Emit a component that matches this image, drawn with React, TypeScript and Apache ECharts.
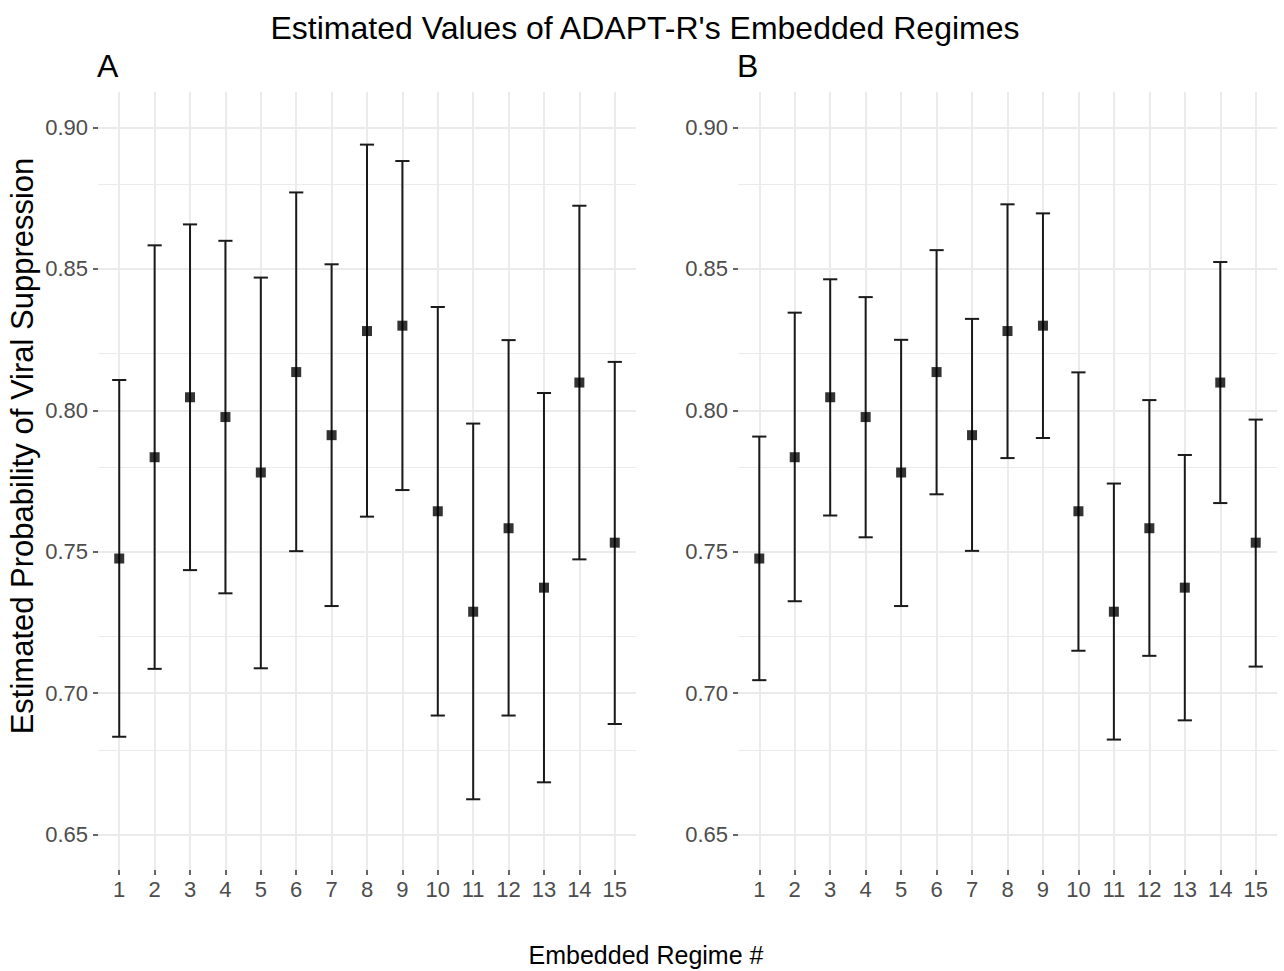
import React, { useEffect, useRef } from "react";
import * as echarts from "echarts";

const regimes = [1, 2, 3, 4, 5, 6, 7, 8, 9, 10, 11, 12, 13, 14, 15];
const estimates = [0.7476, 0.7834, 0.8046, 0.7976, 0.778, 0.8135, 0.7912, 0.828, 0.8299, 0.7643, 0.7288, 0.7583, 0.7373, 0.8098, 0.7532];
const lowerA = [0.6846, 0.7086, 0.7435, 0.7353, 0.7088, 0.7502, 0.7308, 0.7624, 0.7718, 0.6921, 0.6625, 0.6921, 0.6685, 0.7473, 0.6891];
const upperA = [0.8107, 0.8583, 0.8657, 0.8599, 0.8469, 0.877, 0.8516, 0.8939, 0.8881, 0.8365, 0.7953, 0.8248, 0.8061, 0.8723, 0.8171];
const lowerB = [0.7046, 0.7325, 0.7628, 0.7551, 0.7308, 0.7703, 0.7503, 0.7831, 0.7902, 0.715, 0.6836, 0.7132, 0.6904, 0.7672, 0.7094];
const upperB = [0.7907, 0.8345, 0.8463, 0.84, 0.8249, 0.8566, 0.8323, 0.8728, 0.8696, 0.8134, 0.7741, 0.8036, 0.7842, 0.8524, 0.7967];
const yMajor = [0.65, 0.7, 0.75, 0.8, 0.85, 0.9];
const yMinor = [0.675, 0.725, 0.775, 0.825, 0.875];

const title = "Estimated Values of ADAPT-R's Embedded Regimes";
const panelTags = ["A", "B"];
const yTitle = "Estimated Probability of Viral Suppression";
const xTitle = "Embedded Regime #";

const FONT = '"Liberation Sans", Arial, Helvetica, sans-serif';
const GRID_COLOR = "#ebebeb";
const TICK_TEXT = "#4d4d4d";

function buildPanel(idx: number, lower: number[], upper: number[]) {
  const pts = regimes.map((r, i) => [r, estimates[i]]);
  const bars = regimes.map((r, i) => [r, lower[i], upper[i]]);
  const gridLines = [
    ...yMajor.map((v) => ({ yAxis: v, lineStyle: { color: GRID_COLOR, width: 2, type: "solid" } })),
    ...yMinor.map((v) => ({ yAxis: v, lineStyle: { color: GRID_COLOR, width: 1, type: "solid" } })),
    ...regimes.map((r) => ({ xAxis: r, lineStyle: { color: GRID_COLOR, width: 2, type: "solid" } })),
  ];
  return [
    {
      type: "scatter",
      xAxisIndex: idx,
      yAxisIndex: idx,
      data: pts,
      symbolSize: 0,
      silent: true,
      z: 1,
      markLine: {
        z: 1,
        silent: true,
        symbol: ["none", "none"],
        label: { show: false },
        emphasis: { disabled: true },
        animation: false,
        data: gridLines,
      },
    },
    {
      type: "custom",
      xAxisIndex: idx,
      yAxisIndex: idx,
      data: bars,
      z: 10,
      silent: true,
      renderItem: (params: any, api: any) => {
        const x = api.value(0);
        const lo = api.value(1);
        const hi = api.value(2);
        const top = api.coord([x, hi]);
        const bot = api.coord([x, lo]);
        const half = api.size([0.2, 0])[0];
        const style = { stroke: "#1a1a1a", lineWidth: 2 };
        return {
          type: "group",
          children: [
            { type: "line", shape: { x1: top[0], y1: top[1], x2: bot[0], y2: bot[1] }, style },
            { type: "line", shape: { x1: top[0] - half, y1: top[1], x2: top[0] + half, y2: top[1] }, style },
            { type: "line", shape: { x1: bot[0] - half, y1: bot[1], x2: bot[0] + half, y2: bot[1] }, style },
          ],
        };
      },
    },
    {
      type: "scatter",
      xAxisIndex: idx,
      yAxisIndex: idx,
      data: pts,
      symbol: "rect",
      symbolSize: 10,
      itemStyle: { color: "#000000" },
      z: 11,
      silent: true,
    },
  ];
}

function xAxisDef(idx: number) {
  return {
    type: "value",
    gridIndex: idx,
    min: 0.4,
    max: 15.6,
    axisLine: { show: false },
    splitLine: { show: false },
    axisTick: { show: true, length: 5, lineStyle: { color: "#333333", width: 1.5 }, customValues: regimes },
    axisLabel: { show: true, customValues: regimes, color: TICK_TEXT, fontSize: 22, fontFamily: FONT, margin: 8 },
  };
}

function yAxisDef(idx: number) {
  return {
    type: "value",
    gridIndex: idx,
    min: 0.6375,
    max: 0.9125,
    axisLine: { show: false },
    splitLine: { show: false },
    axisTick: { show: true, length: 5, lineStyle: { color: "#333333", width: 1.5 }, customValues: yMajor },
    axisLabel: {
      show: true,
      customValues: yMajor,
      color: TICK_TEXT,
      fontSize: 22,
      fontFamily: FONT,
      margin: 10,
      formatter: (v: number) => v.toFixed(2),
    },
  };
}

export default function App() {
  const ref = useRef<HTMLDivElement>(null);
  useEffect(() => {
    document.body.style.margin = "0";
    if (!ref.current) return;
    const chart = echarts.init(ref.current, null, { renderer: "svg" });
    chart.setOption({
      animation: false,
      backgroundColor: "#ffffff",
      grid: [
        { left: 98, right: 648, top: 92, bottom: 101, outerBoundsMode: "none" },
        { left: 738, right: 7, top: 92, bottom: 101, outerBoundsMode: "none" },
      ],
      xAxis: [xAxisDef(0), xAxisDef(1)],
      yAxis: [yAxisDef(0), yAxisDef(1)],
      series: [...buildPanel(0, lowerA, upperA), ...buildPanel(1, lowerB, upperB)],
      graphic: [
        {
          type: "text",
          x: 645,
          y: 28,
          style: { text: title, fontSize: 32, fontFamily: FONT, fill: "#000000", textAlign: "center", textVerticalAlign: "middle" },
        },
        {
          type: "text",
          x: 97,
          y: 66,
          style: { text: panelTags[0], fontSize: 32, fontFamily: FONT, fill: "#000000", textAlign: "left", textVerticalAlign: "middle" },
        },
        {
          type: "text",
          x: 737,
          y: 66,
          style: { text: panelTags[1], fontSize: 32, fontFamily: FONT, fill: "#000000", textAlign: "left", textVerticalAlign: "middle" },
        },
        {
          type: "text",
          x: 22,
          y: 446,
          rotation: Math.PI / 2,
          style: { text: yTitle, fontSize: 31, fontFamily: FONT, fill: "#000000", textAlign: "center", textVerticalAlign: "middle" },
        },
        {
          type: "text",
          x: 646,
          y: 955,
          style: { text: xTitle, fontSize: 25, fontFamily: FONT, fill: "#000000", textAlign: "center", textVerticalAlign: "middle" },
        },
      ],
    });
    return () => chart.dispose();
  }, []);
  return <div ref={ref} style={{ position: "fixed", left: 0, top: 0, width: 1284, height: 971 }} />;
}
